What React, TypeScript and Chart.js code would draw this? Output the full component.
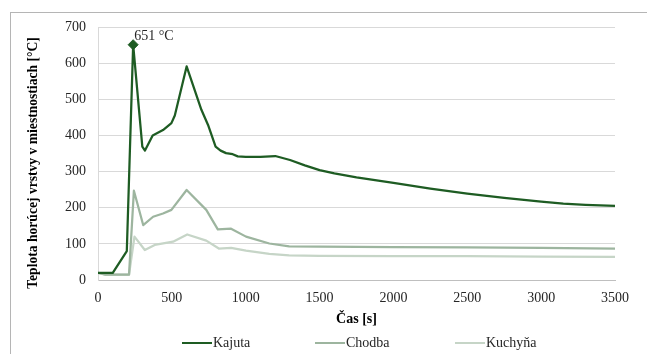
import React, { useEffect, useRef } from "react";
import { Chart, registerables } from "chart.js";

Chart.register(...registerables);

// Data (time in s, temperature in °C)
const kajutaTime = [0, 100, 195, 238, 300, 318, 370, 440, 497, 520, 600, 700, 745, 796, 830, 867, 912, 946, 1000, 1100, 1200, 1300, 1400, 1500, 1600, 1750, 2000, 2250, 2500, 2750, 3000, 3150, 3300, 3500];
const kajutaTemp = [20, 20, 80, 651, 369, 358, 400, 415, 434, 455, 591, 471, 429, 369, 358, 351, 348, 342, 341, 341, 343, 332, 317, 304, 295, 284, 269, 253, 239, 227, 217, 211, 208, 205];

const chodbaTime = [0, 50, 210, 243, 306, 373, 440, 497, 600, 733, 811, 901, 1002, 1160, 1294, 1500, 2000, 2500, 3000, 3500];
const chodbaTemp = [20, 15, 15, 247, 152, 175, 184, 194, 249, 194, 140, 142, 120, 101, 93, 92, 91, 90, 89, 87];

const kuchynaTime = [0, 50, 210, 247, 317, 384, 508, 604, 733, 818, 901, 1002, 1160, 1294, 1500, 2000, 2500, 3000, 3500];
const kuchynaTemp = [20, 15, 15, 120, 83, 97, 106, 126, 109, 87, 89, 81, 72, 68, 67, 66, 66, 65, 64];

const seriesNames = ["Kajuta", "Chodba", "Kuchyňa"];
const peakTime = 238;
const peakTemp = 651;
const peakLabel = "651 °C";
const xTicks = [0, 500, 1000, 1500, 2000, 2500, 3000, 3500];
const yTicks = [0, 100, 200, 300, 400, 500, 600, 700];
const xTitle = "Čas [s]";
const yTitle = "Teplota horúcej vrstvy v miestnostiach [°C]";

const COLORS = ["#1e5c23", "#9db59f", "#c6d5c7"];
const FONT = "'Liberation Serif', 'Times New Roman', serif";
const LEGEND_X = [182, 315, 455];

const toPts = (t: number[], v: number[]) => t.map((x, i) => ({ x, y: v[i] }));

export default function App() {
  const ref = useRef<HTMLCanvasElement | null>(null);

  useEffect(() => {
    if (!ref.current) return;

    const extras = {
      id: "extras",
      afterDatasetsDraw(chart: any) {
        const { ctx, scales } = chart;
        ctx.save();
        const px = scales.x.getPixelForValue(peakTime);
        const py = scales.y.getPixelForValue(peakTemp);
        ctx.fillStyle = "#262626";
        ctx.font = `14px ${FONT}`;
        ctx.textAlign = "left";
        ctx.textBaseline = "alphabetic";
        ctx.fillText(peakLabel, px + 1, py - 5);
        ctx.translate(33, 163);
        ctx.rotate(-Math.PI / 2);
        ctx.font = `bold 13.6px ${FONT}`;
        ctx.textAlign = "center";
        ctx.textBaseline = "middle";
        ctx.fillStyle = "#000000";
        ctx.fillText(yTitle, 0, 0);
        ctx.restore();
      },
    };

    const line = (i: number, t: number[], v: number[]) => ({
      label: seriesNames[i],
      data: toPts(t, v),
      borderColor: COLORS[i],
      backgroundColor: COLORS[i],
      borderWidth: 2.25,
      pointRadius: 0,
      tension: 0,
      borderJoinStyle: "round",
      order: i + 1,
    });

    const chart = new Chart(ref.current, {
      type: "line",
      data: {
        datasets: [
          line(0, kajutaTime, kajutaTemp),
          line(1, chodbaTime, chodbaTemp),
          line(2, kuchynaTime, kuchynaTemp),
          {
            label: "peak",
            data: [{ x: peakTime, y: peakTemp }],
            borderColor: COLORS[0],
            backgroundColor: COLORS[0],
            showLine: false,
            pointStyle: "rectRot",
            pointRadius: 5,
            pointBorderWidth: 1,
            order: 0,
          },
        ],
      },
      options: {
        animation: false,
        responsive: false,
        maintainAspectRatio: false,
        layout: { padding: { left: 0, right: 32, top: 27, bottom: 24 } },
        plugins: {
          legend: { display: false },
          tooltip: { enabled: false },
        },
        scales: {
          x: {
            type: "linear",
            min: 0,
            max: 3500,
            afterBuildTicks: (s: any) => {
              s.ticks = xTicks.map((v) => ({ value: v }));
            },
            afterFit: (s: any) => {
              s.height = 50;
            },
            grid: { display: false, drawTicks: false },
            border: { display: true, color: "#bfbfbf", width: 1 },
            ticks: {
              padding: 10,
              color: "#262626",
              font: { family: FONT, size: 14 },
              maxRotation: 0,
              callback: (v: any) => String(v),
            },
            title: {
              display: true,
              text: xTitle,
              color: "#000000",
              font: { family: FONT, size: 14, weight: "bold" },
              padding: { top: 2, bottom: 2 },
            },
          },
          y: {
            min: 0,
            max: 700,
            afterBuildTicks: (s: any) => {
              s.ticks = yTicks.map((v) => ({ value: v }));
            },
            afterFit: (s: any) => {
              s.width = 98;
            },
            grid: { color: "#d9d9d9", drawTicks: false, lineWidth: 1 },
            border: { display: true, color: "#d9d9d9", width: 1 },
            ticks: {
              padding: 12,
              color: "#262626",
              font: { family: FONT, size: 14 },
              callback: (v: any) => String(v),
            },
          },
        },
      },
      plugins: [extras],
    } as any);

    return () => chart.destroy();
  }, []);

  return (
    <div
      style={{
        position: "absolute",
        left: 0,
        top: 0,
        width: 647,
        height: 354,
        overflow: "hidden",
        background: "#ffffff",
      }}
    >
      <div
        style={{
          position: "absolute",
          left: 10,
          top: 12,
          width: 700,
          height: 400,
          border: "1px solid #b5b5b5",
          boxSizing: "border-box",
        }}
      />
      <canvas
        ref={ref}
        width={647}
        height={354}
        style={{ position: "absolute", left: 0, top: 0, width: 647, height: 354 }}
      />
      {seriesNames.map((name, i) => (
        <div
          key={name}
          style={{
            position: "absolute",
            left: LEGEND_X[i],
            top: 334,
            height: 18,
            display: "flex",
            alignItems: "center",
            fontFamily: FONT,
            fontSize: 14,
            color: "#262626",
            whiteSpace: "nowrap",
          }}
        >
          <span
            style={{
              display: "inline-block",
              width: 30,
              height: 2,
              background: COLORS[i],
              marginRight: 1,
            }}
          />
          <span>{name}</span>
        </div>
      ))}
    </div>
  );
}
